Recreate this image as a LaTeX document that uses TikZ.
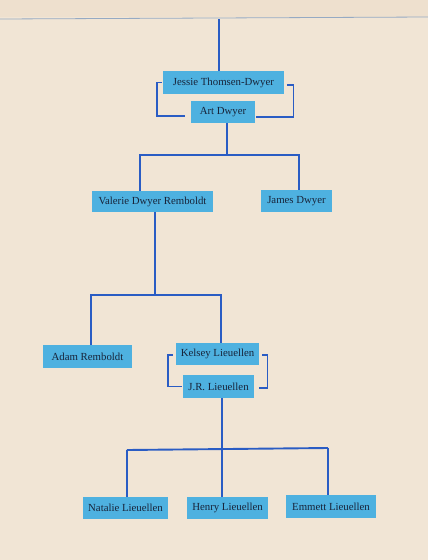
\documentclass[tikz,border=0pt]{standalone}
\usepackage{fontspec}
\setmainfont{Liberation Serif}
\definecolor{paper}{RGB}{241,229,213}
\definecolor{papertop}{RGB}{238,224,206}
\definecolor{boxblue}{RGB}{78,177,224}
\definecolor{linkblue}{RGB}{42,92,196}
\definecolor{inkc}{RGB}{24,36,58}
\definecolor{rulec}{RGB}{150,170,195}
\begin{document}
\begin{tikzpicture}[x=1pt,y=-1pt,
  person/.style={fill=boxblue,draw=none,inner sep=0pt,text=inkc,
     font=\fontsize{10.8}{12}\selectfont,minimum height=22pt},
  link/.style={draw=linkblue,line width=1.9pt},
  thinlink/.style={draw=linkblue,line width=1.4pt}]
\fill[paper] (0,0) rectangle (428,560);
\fill[papertop] (0,0) rectangle (428,17);
\useasboundingbox (0,0) rectangle (428,560);
\draw[rulec,line width=0.8pt] (0,19) -- (428,17);

\node[person,minimum width=121pt,minimum height=23pt] (jessie) at (223.5,82.5) {Jessie Thomsen-Dwyer};
\node[person,minimum width=64pt] (art) at (223,112) {Art Dwyer};
\node[person,minimum width=121pt,minimum height=21pt] (valerie) at (152.5,201.5) {Valerie Dwyer Remboldt};
\node[person,minimum width=71pt] (james) at (296.5,201) {James Dwyer};
\node[person,minimum width=89pt,minimum height=23pt] (adam) at (87.5,356.5) {Adam Remboldt};
\node[person,minimum width=83pt] (kelsey) at (217.5,354) {Kelsey Lieuellen};
\node[person,minimum width=71pt,minimum height=23pt] (jr) at (218.5,386.5) {J.R. Lieuellen};
\node[person,minimum width=85pt] (natalie) at (125.5,508) {Natalie Lieuellen};
\node[person,minimum width=81pt] (henry) at (227.5,508) {Henry Lieuellen};
\node[person,minimum width=90pt,minimum height=23pt] (emmett) at (331,506.5) {Emmett Lieuellen};

% top stem
\coordinate (top) at (219,19);
\draw[link] (top) -- (top |- jessie.north);

% couple bracket 1
\draw[thinlink] ([xshift=-1pt]jessie.west) -- ++(-5,0) |- ([xshift=-6pt,yshift=-4pt]art.west);
\draw[thinlink] ([xshift=3pt,yshift=-2.5pt]jessie.east) -- ++(6,0) |- ([xshift=1pt,yshift=-5pt]art.east);

% children of Jessie & Art
\coordinate (f1) at (227,155);
\coordinate (f1l) at (140,155);
\coordinate (f1r) at (299,155);
\draw[link] (art.south -| f1) -- (f1);
\draw[thinlink] (f1l |- valerie.north) -- (f1l) -- (f1r) -- (f1r |- james.north);

% children of Valerie
\coordinate (f2) at (157,295);
\coordinate (f2l) at (91,295);
\coordinate (f2r) at (221,295);
\draw[thinlink] (valerie.south -| 155,0) -- (155,295);
\draw[thinlink] (f2l |- adam.north) -- (f2l) -- (f2r) -- (f2r |- kelsey.north);

% couple bracket 2
\draw[thinlink] ([xshift=-3pt,yshift=-1pt]kelsey.west) -- ++(-5,0) |- ([xshift=-1pt]jr.west);
\draw[thinlink] ([xshift=3pt,yshift=-1pt]kelsey.east) -- ++(5,0) |- ([xshift=5pt,yshift=-1.5pt]jr.east);

% children of Kelsey & J.R.
\coordinate (f3) at (222,449);
\coordinate (f3l) at (127,450);
\coordinate (f3r) at (328,448);
\draw[thinlink] (jr.south -| f3) -- (f3) -- (f3 |- henry.north);
\draw[link] (f3l) -- (f3r);
\draw[thinlink] (f3l |- natalie.north) -- (f3l);
\draw[thinlink] (f3r) -- (f3r |- emmett.north);
\end{tikzpicture}
\end{document}
